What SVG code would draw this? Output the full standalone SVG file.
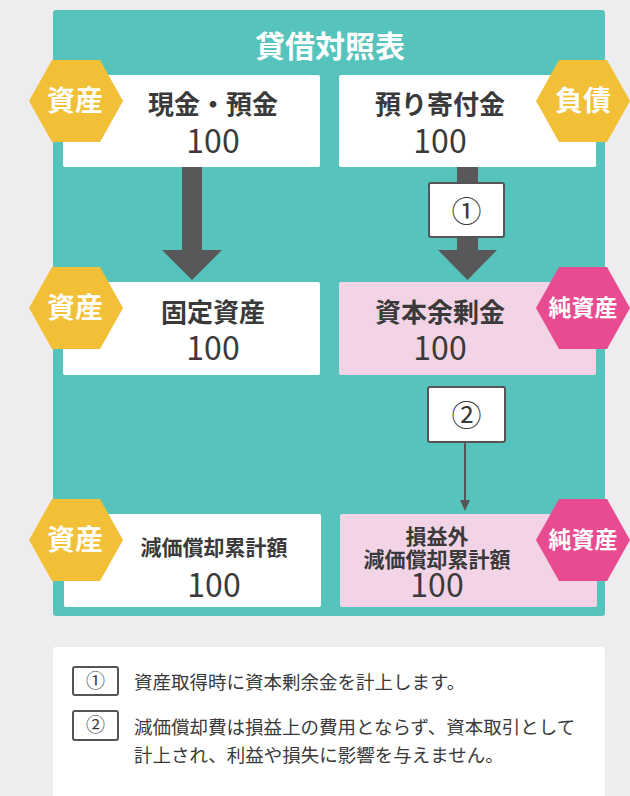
<svg xmlns="http://www.w3.org/2000/svg" width="630" height="796" viewBox="0 0 630 796">
<style>
text{font-family:"Noto Sans CJK JP","Noto Sans",sans-serif;fill:#3a3a3a;}
.c{text-anchor:middle;}
.lbl{font-size:26px;font-weight:bold;}
.lbls{font-size:21px;font-weight:bold;}
.num{font-size:32px;font-weight:normal;}
.hx{font-size:28px;font-weight:bold;fill:#fff;text-anchor:middle;}
.hxs{font-size:23px;font-weight:bold;fill:#fff;text-anchor:middle;}
.yel{fill:#F2C037;}
.pnk{fill:#E84B8F;}
.wbox{fill:#fff;}
.pbox{fill:#F2D4E6;}
.leg{font-size:18.5px;}
.lbox{fill:#fff;stroke:#555;stroke-width:2;}
.thick{fill:#58585A;}
</style>
<defs>
<polygon id="hex" points="-47,0 -24,-41 24,-41 47,0 24,41 -24,41"/>
</defs>
<rect width="630" height="796" fill="#EDEDF0"/>
<g id="panel">
<rect x="53" y="10" width="552" height="606" rx="3" fill="#56C3BC"/>
<text x="330" y="57" font-size="30" font-weight="bold" style="fill:#fff" text-anchor="middle">貸借対照表</text>
</g>
<g id="connectors">
<rect class="thick" x="182" y="167" width="20" height="85"/>
<polygon class="thick" points="162,250 222,250 192,280"/>
<rect class="thick" x="457" y="167" width="21" height="85"/>
<polygon class="thick" points="438,250 497,250 467.5,280"/>
<g id="step1"><rect class="lbox" x="429" y="183" width="75" height="54" rx="2"/><text class="c" x="466.5" y="222" font-size="30">①</text></g>
<line x1="465" y1="442" x2="465" y2="502" stroke="#555" stroke-width="2"/>
<polygon points="460,500 470,500 465,511" fill="#555"/>
<g id="step2"><rect class="lbox" x="428" y="387" width="77" height="55" rx="2"/><text class="c" x="466.5" y="426" font-size="30">②</text></g>
</g>
<g id="cash">
<rect class="wbox" x="63" y="75" width="257" height="92" rx="2"/>
<text class="c"><tspan class="lbl" x="213" y="114">現金・預金</tspan><tspan class="num" x="213" y="153">100</tspan></text>
<use href="#hex" class="yel" x="76" y="101"/>
<text class="hx" x="75" y="111">資産</text>
</g>
<g id="deposit">
<rect class="wbox" x="339" y="75" width="257" height="92" rx="2"/>
<text class="c"><tspan class="lbl" x="440" y="114">預り寄付金</tspan><tspan class="num" x="440" y="153">100</tspan></text>
<use href="#hex" class="yel" x="583" y="101"/>
<text class="hx" x="583" y="111">負債</text>
</g>
<g id="fixed">
<rect class="wbox" x="63" y="282" width="257" height="93" rx="2"/>
<text class="c"><tspan class="lbl" x="213" y="322">固定資産</tspan><tspan class="num" x="213" y="360">100</tspan></text>
<use href="#hex" class="yel" x="76" y="308"/>
<text class="hx" x="75" y="318">資産</text>
</g>
<g id="surplus">
<rect class="pbox" x="339" y="282" width="257" height="93" rx="2"/>
<text class="c"><tspan class="lbl" x="440" y="322">資本余剰金</tspan><tspan class="num" x="440" y="360">100</tspan></text>
<use href="#hex" class="pnk" x="583" y="308"/>
<text class="hxs" x="583" y="316">純資産</text>
</g>
<g id="accum">
<rect class="wbox" x="64" y="514" width="257" height="93" rx="2"/>
<text class="c"><tspan class="lbls" x="214" y="555">減価償却累計額</tspan><tspan class="num" x="214" y="597">100</tspan></text>
<use href="#hex" class="yel" x="76" y="540"/>
<text class="hx" x="75" y="550">資産</text>
</g>
<g id="accum2">
<rect class="pbox" x="340" y="514" width="257" height="93" rx="2"/>
<text class="c"><tspan class="lbls" x="437" y="544">損益外</tspan><tspan class="lbls" x="437" y="567">減価償却累計額</tspan><tspan class="num" x="437" y="597">100</tspan></text>
<use href="#hex" class="pnk" x="583" y="540"/>
<text class="hxs" x="583" y="548">純資産</text>
</g>
<g id="legend">
<rect x="53" y="647" width="552" height="160" rx="3" fill="#fff"/>
<rect class="lbox" x="73" y="667" width="45" height="28" rx="2"/>
<text class="c" x="95.5" y="688" font-size="19">①</text>
<text class="leg" x="134" y="689">資産取得時に資本剰余金を計上します。</text>
<rect class="lbox" x="73" y="711" width="45" height="29" rx="2"/>
<text class="c" x="95.5" y="732" font-size="19">②</text>
<text class="leg"><tspan x="134" y="734">減価償却費は損益上の費用とならず、資本取引として</tspan><tspan x="134" y="762">計上され、利益や損失に影響を与えません。</tspan></text>
</g>
</svg>
